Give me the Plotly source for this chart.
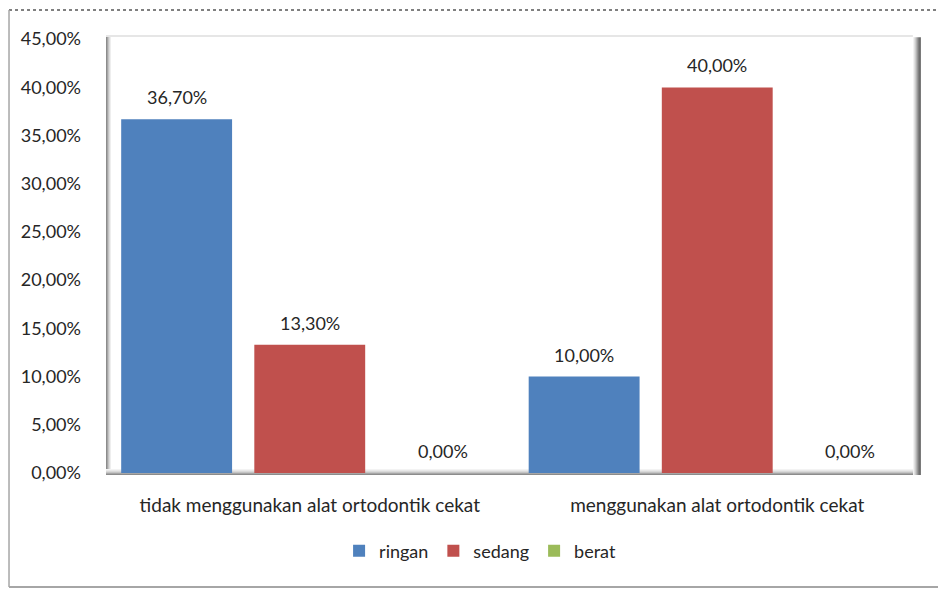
import plotly.graph_objects as go

categories = ["tidak menggunakan alat ortodontik cekat", "menggunakan alat ortodontik cekat"]
series_names = ["ringan", "sedang", "berat"]
ringan = [36.70, 10.00]
sedang = [13.30, 40.00]
berat = [0.00, 0.00]
colors = ["#4F81BD", "#C0504D", "#9BBB59"]
tick_vals = [0, 5, 10, 15, 20, 25, 30, 35, 40, 45]
tick_text = ["0,00%", "5,00%", "10,00%", "15,00%", "20,00%", "25,00%", "30,00%", "35,00%", "40,00%", "45,00%"]

FONT = "Lato"
TXT = "#262626"

def fmt(v):
    return f"{v:.2f}".replace(".", ",") + "%"

series_values = [ringan, sedang, berat]
bargap = 0.02
fig = go.Figure()
for name, vals, col in zip(series_names, series_values, colors):
    fig.add_trace(go.Bar(name=name, x=[0, 1], y=vals, marker=dict(color=col, line=dict(width=0))))

# data labels, placed through the axis scales
n = len(series_values)
slot = (1 - bargap) / n
annotations = []
for i, vals in enumerate(series_values):
    off = (i - (n - 1) / 2) * slot
    for j, v in enumerate(vals):
        annotations.append(dict(x=j + off, y=v, xref="x", yref="y", text=fmt(v), showarrow=False,
                                yshift=22, font=dict(family=FONT, size=18, color=TXT)))

shapes = []
# left wall gradient
lw = ["#8c8c8c", "#a6a6a6", "#c4c4c4", "#dcdcdc", "#eeeeee"]
for k, c in enumerate(lw):
    shapes.append(dict(type="rect", xref="paper", yref="paper", xsizemode="pixel", xanchor=0,
                       x0=k, x1=k + 1, y0=0, y1=1, line=dict(width=0), fillcolor=c, layer="below"))
# floor gradient
fl = ["#8c8c8c", "#a6a6a6", "#c4c4c4", "#d9d9d9", "#e8e8e8", "#f3f3f3"]
for k, c in enumerate(fl):
    shapes.append(dict(type="rect", xref="paper", yref="paper", ysizemode="pixel", yanchor=0,
                       x0=0, x1=1, y0=k, y1=k + 1, line=dict(width=0), fillcolor=c, layer="below"))
# right shadow
rs = ["#f2f2f2", "#e0e0e0", "#cccccc", "#b3b3b3", "#999999", "#808080", "#6e6e6e", "#7a7a7a"]
for k, c in enumerate(rs):
    shapes.append(dict(type="rect", xref="paper", yref="paper", xsizemode="pixel", xanchor=1,
                       x0=-len(rs) + k, x1=-len(rs) + k + 1, y0=0, y1=0.997, line=dict(width=0), fillcolor=c, layer="below"))
# top light edge
shapes.append(dict(type="line", xref="paper", yref="paper", x0=0, x1=0.99, y0=1, y1=1,
                   line=dict(color="#e6e6e6", width=2), layer="below"))
# outer chart border
shapes.append(dict(type="line", xref="paper", yref="paper", x0=-0.119, x1=1.03, y0=1.059, y1=1.059,
                   line=dict(color="#555555", width=1.5, dash="dot")))
shapes.append(dict(type="line", xref="paper", yref="paper", x0=-0.119, x1=-0.119, y0=-0.255, y1=1.059,
                   line=dict(color="#a6a6a6", width=1.5)))
shapes.append(dict(type="line", xref="paper", yref="paper", x0=-0.119, x1=1.03, y0=-0.255, y1=-0.255,
                   line=dict(color="#a6a6a6", width=2)))

fig.update_layout(
    width=938, height=589,
    margin=dict(l=106, r=17, t=36, b=114),
    paper_bgcolor="white", plot_bgcolor="white",
    barmode="group", bargap=bargap, bargroupgap=0.167,
    font=dict(family=FONT, size=18, color=TXT),
    xaxis=dict(range=[-0.5, 1.5], tickvals=[0, 1], ticktext=categories, showgrid=False,
               zeroline=False, showline=False, ticks="", ticklabelstandoff=17,
               tickfont=dict(family=FONT, size=19, color=TXT)),
    yaxis=dict(range=[-0.21, 45.33], tickvals=tick_vals, ticktext=tick_text, showgrid=False,
               zeroline=False, showline=False, ticks="", ticklabelstandoff=24,
               tickfont=dict(family=FONT, size=18, color=TXT)),
    legend=dict(orientation="h", x=0.459, xanchor="center", y=-0.173, yanchor="middle",
                font=dict(family=FONT, size=18, color=TXT), itemwidth=30, traceorder="normal"),
    annotations=annotations,
    shapes=shapes,
)

fig.write_html("out.html")
